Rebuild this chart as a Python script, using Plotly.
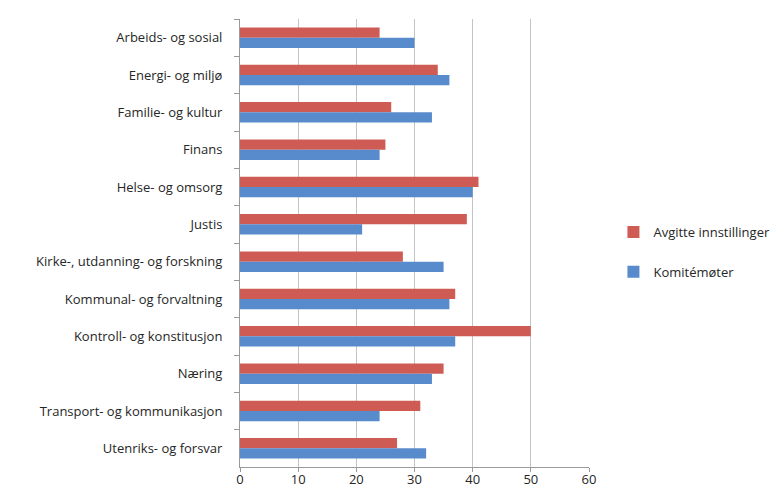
import plotly.graph_objects as go

categories = [
    "Arbeids- og sosial",
    "Energi- og miljø",
    "Familie- og kultur",
    "Finans",
    "Helse- og omsorg",
    "Justis",
    "Kirke-, utdanning- og forskning",
    "Kommunal- og forvaltning",
    "Kontroll- og konstitusjon",
    "Næring",
    "Transport- og kommunikasjon",
    "Utenriks- og forsvar",
]
avgitte = [24, 34, 26, 25, 41, 39, 28, 37, 50, 35, 31, 27]
komitemoter = [30, 36, 33, 24, 40, 21, 35, 36, 37, 33, 24, 32]
x_ticks = [0, 10, 20, 30, 40, 50, 60]

font_family = "Open Sans, Noto Sans, sans-serif"

fig = go.Figure()
fig.add_trace(go.Bar(
    y=categories, x=avgitte, orientation="h", name="Avgitte innstillinger",
    marker=dict(color="#cf5b55", line=dict(width=0)), legendgroup="a",
))
fig.add_trace(go.Bar(
    y=categories, x=komitemoter, orientation="h", name="Komitémøter",
    marker=dict(color="#588bcb", line=dict(width=0)), legendgroup="b",
))

fig.update_layout(
    width=774, height=483,
    margin=dict(l=232, r=193, t=11, b=24, autoexpand=False),
    paper_bgcolor="white", plot_bgcolor="white",
    barmode="group", bargap=0.45, bargroupgap=0,
    font=dict(family=font_family, size=13, color="#262626"),
    legend=dict(
        x=1.07, y=0.48, xanchor="left", yanchor="middle",
        font=dict(size=13, color="#262626"),
        tracegroupgap=20, itemwidth=30,
    ),
    xaxis=dict(
        range=[0, 60], tickvals=x_ticks, showgrid=True,
        gridcolor="#c4c4c4", gridwidth=1.3,
        showline=True, linecolor="#9a9a9a", linewidth=1,
        ticks="outside", ticklen=4, tickcolor="#9a9a9a",
        zeroline=False, tickfont=dict(size=13),
        ticklabelstandoff=-4,
    ),
    yaxis=dict(
        autorange="reversed", showgrid=False,
        showline=True, linecolor="#9a9a9a", linewidth=1,
        ticks="outside", ticklen=5, tickcolor="#9a9a9a",
        tickson="boundaries", tickfont=dict(size=13),
        ticklabelstandoff=14,
    ),
)

fig.write_html("out.html")
